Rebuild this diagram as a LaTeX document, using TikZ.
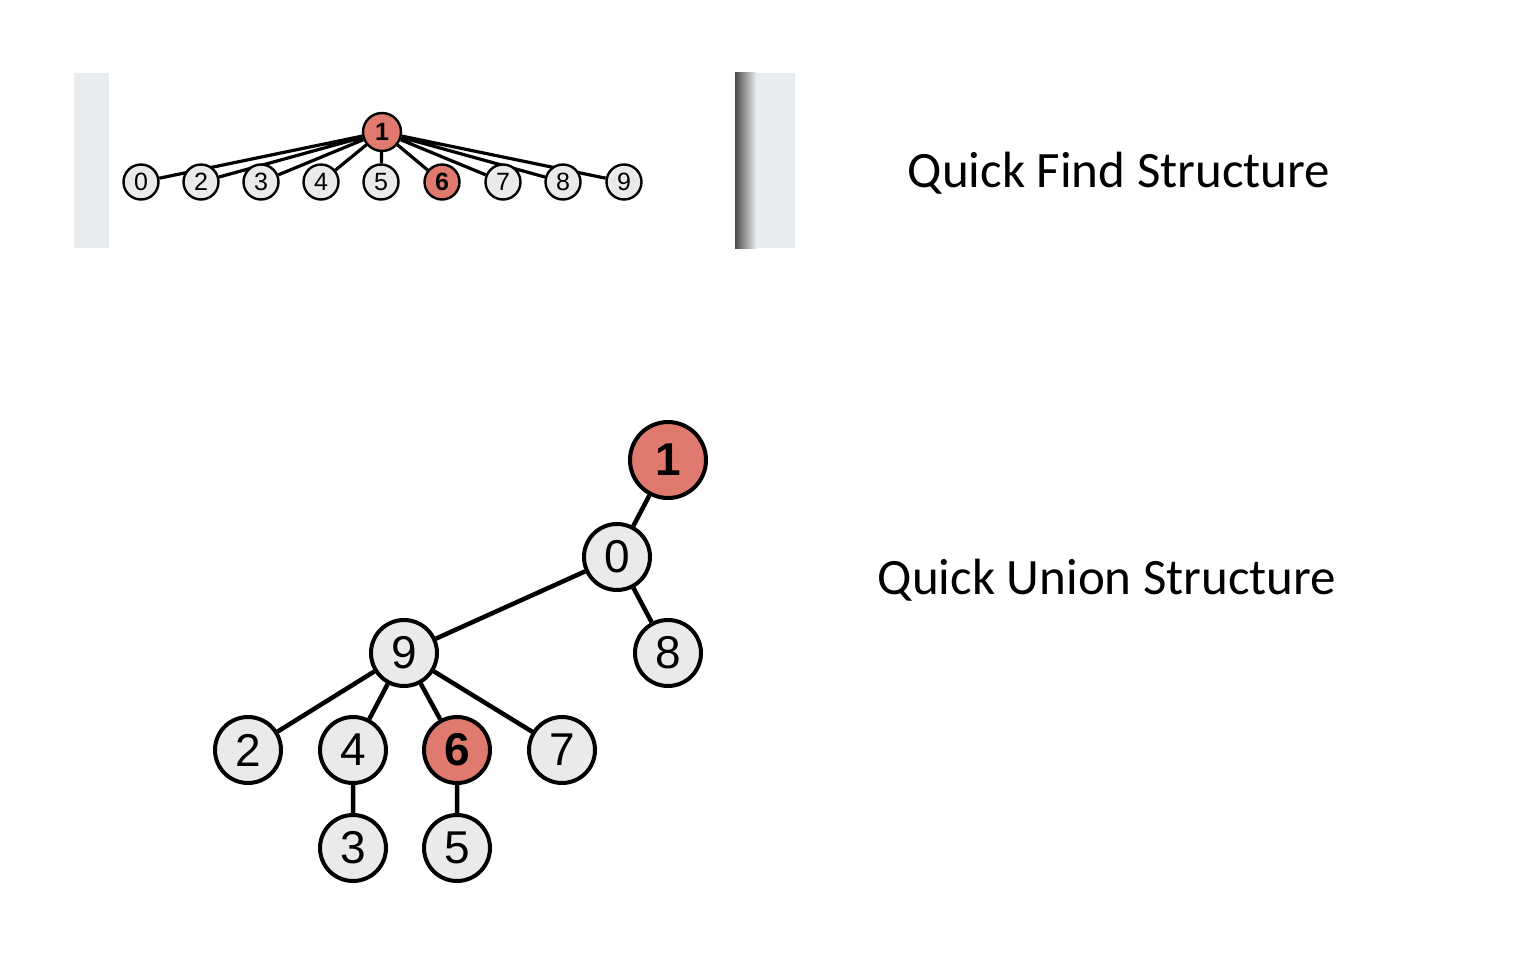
\documentclass[tikz,border=0pt]{standalone}
\usepackage{fontspec}
\setmainfont{Carlito}
\newfontfamily\digitfont{Liberation Sans}
\usepackage{tikz}
\usetikzlibrary{positioning,backgrounds}
\pgfdeclarelayer{back}
\pgfsetlayers{back,background,main}

\definecolor{nodegray}{RGB}{234,234,234}
\definecolor{nodered}{RGB}{224,122,110}
\definecolor{panelgray}{RGB}{232,236,239}

\tikzset{
	fnode/.style={shape=circle,draw,line width=2.4pt,fill=nodegray,minimum size=35pt,inner sep=0pt,
		font=\digitfont\fontsize{25}{25}\selectfont},
	unode/.style={shape=circle,draw,line width=4pt,fill=nodegray,minimum size=66pt,inner sep=0pt,
		font=\digitfont\fontsize{46}{46}\selectfont},
	hot/.style={fill=nodered,font=\digitfont\bfseries\fontsize{#1}{#1}\selectfont},
	flink/.style={line width=3.2pt},
	ulink/.style={line width=4.5pt},
	caption/.style={font=\fontsize{51}{60}\selectfont}
}

\begin{document}
\begin{tikzpicture}[x=1pt,y=-1pt]
	\useasboundingbox (0,0) rectangle (1539,963);
	\begin{pgfonlayer}{back}
		\fill[white] (0,0) rectangle (1539,963);
		% frame of the quick find picture
		\fill[panelgray] (74,73) rectangle (795,248);
		\fill[white] (109,73) rectangle (735,248);
		\shade[left color=black!70,right color=panelgray] (735,73) rectangle (756,248);
	\end{pgfonlayer}

	% quick find
	\node(f1) [fnode,hot=25,minimum width=38pt,minimum height=37pt] at (382,132) {1};
	\node(f0) [fnode] at (141,182) {0};
	\node(f2) [fnode] at (201,182) {2};
	\node(f3) [fnode] at (261,182) {3};
	\node(f4) [fnode] at (321,182) {4};
	\node(f5) [fnode] at (381,182) {5};
	\node(f6) [fnode,hot=25] at (442,182) {6};
	\node(f7) [fnode] at (503,182) {7};
	\node(f8) [fnode] at (563,182) {8};
	\node(f9) [fnode] at (624,182) {9};
	\begin{scope}[on background layer]
		\draw[flink] (f1) -- (f0) (f1) -- (f2) (f1) -- (f3) (f1) -- (f4) (f1) -- (f5)
		             (f1) -- (f6) (f1) -- (f7) (f1) -- (f8) (f1) -- (f9);
	\end{scope}
	\node(fcap) [caption] at (1119,173) {Quick Find Structure};

	% quick union
	\node(u1) [unode,hot=46,minimum size=76pt] at (668,460) {1};
	\node(u0) [unode] at (617,557) {0};
	\node(u8) [unode] at (668,653) {8};
	\node(u9) [unode] at (404,653) {9};
	\node(u2) [unode] at (248,750) {2};
	\node(u4) [unode] at (353,750) {4};
	\node(u6) [unode,hot=46] at (457,750) {6};
	\node(u7) [unode] at (562,750) {7};
	\node(u3) [unode] at (353,848) {3};
	\node(u5) [unode] at (457,848) {5};
	\begin{scope}[on background layer]
		\draw[ulink] (u1) -- (u0) (u0) -- (u9) (u0) -- (u8)
		             (u9) -- (u2) (u9) -- (u4) (u9) -- (u6) (u9) -- (u7)
		             (u4) -- (u3) (u6) -- (u5);
	\end{scope}
	\node(ucap) [caption] at (1107,580) {Quick Union Structure};
\end{tikzpicture}
\end{document}
